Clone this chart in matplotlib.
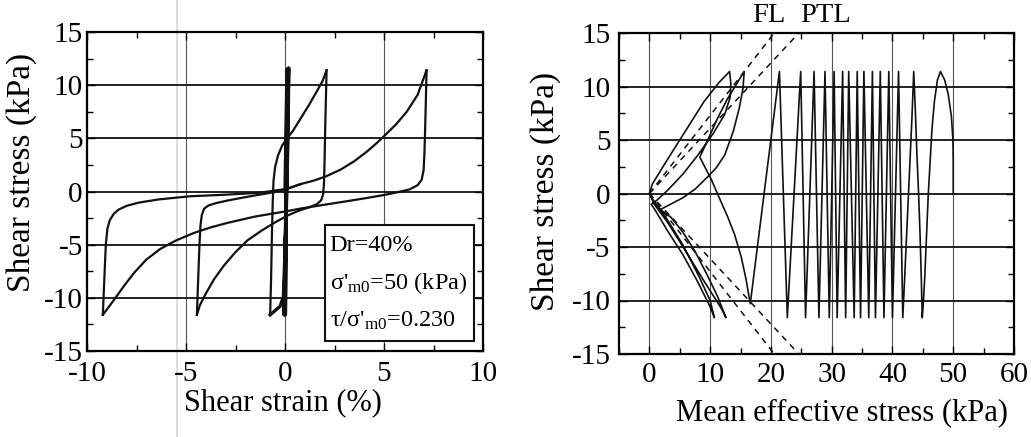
import matplotlib
matplotlib.use("Agg")
import matplotlib.pyplot as plt
from matplotlib.ticker import MultipleLocator
from matplotlib.patches import Rectangle
from matplotlib.lines import Line2D

plt.rcParams['font.family'] = ['Liberation Serif', 'DejaVu Serif']
plt.rcParams['mathtext.fontset'] = 'custom'
plt.rcParams['mathtext.rm'] = 'Liberation Serif'
plt.rcParams['mathtext.it'] = 'Liberation Serif:italic'
plt.rcParams['axes.unicode_minus'] = False

# ---------------- stress-strain loops (left) ----------------
# early small cycles around zero strain
small_strain = [0.00, 0.10, 0.02, 0.13, -0.02, 0.16, -0.05, 0.19, 0.15, 0.05, -0.08, -0.25, -0.75]
small_stress = [0.0, 11.5, -11.6, 11.5, -11.6, 11.6, -11.6, 11.6, 5.0, -3.0, -9.9, -10.8, -11.6]

# up to the 2 % peak
up1_strain = [-0.75, -0.70, -0.66, -0.62, -0.58, -0.50, -0.35, -0.15, 0.10, 0.40, 0.80, 1.20, 1.60, 1.90, 2.10]
up1_stress = [-11.6, -8.0, -4.0, -1.0, 1.0, 2.3, 3.4, 4.3, 5.0, 5.7, 6.9, 8.1, 9.4, 10.4, 11.4]

# down to the -4.5 % peak
down1_strain = [2.10, 2.07, 2.03, 2.00, 1.97, 1.92, 1.82, 1.60, 1.20, 0.70, 0.20, -0.50, -1.20, -1.90,
                -2.50, -3.10, -3.60, -4.00, -4.30, -4.45]
down1_stress = [11.4, 9.0, 6.0, 3.0, 0.8, -0.3, -0.85, -1.2, -1.5, -1.8, -2.2, -2.9, -3.7, -4.6,
                -5.7, -7.0, -8.3, -9.6, -10.7, -11.6]

# up to the 7 % peak
up2_strain = [-4.45, -4.38, -4.32, -4.27, -4.20, -4.08, -3.85, -3.50, -2.90, -2.20, -1.30, -0.50, 0.10,
              0.80, 1.50, 2.10, 2.80, 3.50, 4.10, 4.60, 5.00, 5.60, 6.15, 6.70, 7.15]
up2_stress = [-11.6, -8.0, -5.0, -3.2, -2.2, -1.6, -1.3, -1.1, -0.85, -0.6, -0.3, -0.05, 0.25,
              0.7, 1.05, 1.45, 2.05, 2.85, 3.7, 4.5, 5.2, 6.3, 7.5, 9.1, 11.4]

# down to the -9 % peak
down2_strain = [7.15, 7.12, 7.08, 7.04, 7.00, 6.90, 6.70, 6.30, 5.60, 5.00, 4.00, 3.00, 1.80, 0.80,
                0.10, -1.50, -2.90, -3.80, -4.60, -5.50, -6.30, -7.00, -7.60, -8.10, -8.60, -9.20]
down2_stress = [11.4, 9.0, 6.0, 3.5, 2.0, 1.1, 0.6, 0.2, -0.1, -0.33, -0.65, -0.95, -1.3, -1.6,
                -1.85, -2.35, -2.95, -3.4, -3.9, -4.6, -5.4, -6.4, -7.6, -8.8, -10.1, -11.6]

# last reloading branch
up3_strain = [-9.20, -9.12, -9.05, -8.97, -8.85, -8.65, -8.40, -8.00, -7.40, -6.40, -4.80, -3.00,
              -1.30, 0.10, 0.80]
up3_stress = [-11.6, -8.0, -5.0, -3.5, -2.7, -2.1, -1.7, -1.35, -1.05, -0.75, -0.45, -0.3,
              -0.12, 0.25, 0.7]

# ---------------- effective stress path (right) ----------------
# first, wider cycles starting from 50 kPa
start_p = [50.0, 50.0, 49.95, 49.7, 49.2, 48.6, 47.9, 47.4, 46.9, 46.5, 46.2, 45.9, 45.6, 45.3, 45.05, 44.9,
           44.75, 44.55, 44.3, 44.0, 43.75, 43.5, 43.2, 42.8, 42.4, 42.0, 41.7]
start_tau = [0.0, 3.0, 5.0, 7.2, 9.2, 10.6, 11.4, 10.6, 8.6, 6.0, 3.0, 0.0, -4.0, -8.0, -10.5, -11.6,
             -8.0, -4.0, 0.0, 4.0, 8.0, 11.4, 7.0, 2.0, -3.0, -8.0, -11.6]

# turning points of the following cycles
top_p = [41.0, 39.4, 38.0, 36.7, 35.3, 34.2, 32.8, 31.8, 30.4, 28.9, 27.1, 24.9, 21.4]
bottom_p = [40.0, 38.6, 37.2, 36.1, 34.75, 33.7, 32.3, 30.9, 29.6, 27.9, 25.7, 22.7]
tau_top = 11.4
tau_bottom = -11.6

# liquefied state close to the origin
end_p = [16.6, 15.9, 15.1, 14.0, 12.9, 11.5, 10.2, 9.2, 8.3,
         9.6, 11.2, 12.8, 14.2, 15.6,
         15.4, 14.8, 13.8, 12.4, 11.0, 9.5, 7.5, 5.5, 3.5, 1.8,
         3.5, 5.5, 7.5, 9.5, 11.2, 12.6,
         11.8, 9.0, 6.0, 3.0, 0.8, 0.0,
         0.5, 3.0, 6.0, 9.0, 11.5, 13.2,
         13.4, 13.3, 12.4, 10.5, 8.0, 5.5, 3.0, 1.3, 0.3,
         1.0, 3.0, 5.5, 8.0, 10.0, 10.7,
         10.0, 8.2, 5.5, 2.8, 0.6, 0.0]
end_tau = [-10.3, -8.0, -5.9, -3.8, -2.2, -0.4, 1.3, 2.4, 3.4,
           5.0, 7.0, 8.8, 10.1, 11.4,
           9.8, 8.0, 5.8, 3.6, 2.4, 1.5, 0.4, -0.4, -1.0, -1.5,
           -2.2, -3.6, -5.4, -7.6, -9.6, -11.6,
           -10.7, -8.2, -5.4, -2.7, -1.0, 0.0,
           0.9, 3.2, 5.9, 8.6, 10.4, 11.4,
           10.3, 9.0, 7.4, 5.6, 3.6, 1.8, 0.3, -0.6, -1.0,
           -1.6, -3.5, -5.7, -8.3, -10.6, -11.6,
           -10.0, -7.8, -4.8, -2.3, -0.6, 0.0]

# failure line and phase transformation line slopes
fl_slope = 0.73
ptl_slope = 0.61

# ---------------- figure ----------------
fig = plt.figure(figsize=(10.31, 4.37), dpi=100)
fig.add_artist(Line2D([177 / 1031, 177 / 1031], [0, 1], color='#dedede', lw=1.4, zorder=-1))

ax1 = fig.add_axes([87 / 1031, 86 / 437, 396 / 1031, 319 / 437])
ax2 = fig.add_axes([619 / 1031, 83 / 437, 395 / 1031, 321 / 437])

line_kw = dict(color='#111111', lw=1.6)

for ax in (ax1, ax2):
    ax.patch.set_alpha(0)
    ax.set_axisbelow(True)
    ax.grid(axis='x', which='major', color='#555555', lw=0.8)
    ax.grid(axis='y', which='major', color='#111111', lw=1.3)
    ax.tick_params(which='both', direction='in', top=True, right=True, labelsize=21)
    ax.tick_params(which='major', length=6, width=1.0)
    ax.tick_params(which='minor', length=4, width=1.0)
    for s in ax.spines.values():
        s.set_linewidth(1.6)
    ax.set_ylim(-15, 15)
    ax.yaxis.set_major_locator(MultipleLocator(5))
    ax.yaxis.set_minor_locator(MultipleLocator(2.5))

# left panel
ax1.plot(small_strain, small_stress, color='#111111', lw=2.4)
for xs, ys in ((up1_strain, up1_stress), (down1_strain, down1_stress),
               (up2_strain, up2_stress), (down2_strain, down2_stress),
               (up3_strain, up3_stress)):
    ax1.plot(xs, ys, **line_kw)
ax1.set_xlim(-10, 10)
ax1.xaxis.set_major_locator(MultipleLocator(5))
ax1.xaxis.set_minor_locator(MultipleLocator(2.5))
ax1.tick_params(axis='x', which='major', pad=7)
ax1.tick_params(axis='y', which='major', pad=3)
ax1.set_xlabel('Shear strain (%)', fontsize=22)
ax1.set_ylabel('Shear stress (kPa)', fontsize=24)
ax1.xaxis.set_label_coords(0.495, -0.163)
ax1.xaxis.label.set_va('center')
ax1.yaxis.set_label_coords(-0.164, 0.561)
ax1.yaxis.label.set_va('center')

box = Rectangle((0.601, 0.031), 0.376, 0.364, transform=ax1.transAxes,
                facecolor='white', edgecolor='#111111', lw=1.5, zorder=5)
ax1.add_patch(box)
info_lines = ['Dr=40%', "σ'$_{\\mathrm{m0}}$=50 (kPa)", "τ/σ'$_{\\mathrm{m0}}$=0.230"]
for i, txt in enumerate(info_lines):
    ax1.text(0.613, 0.33 - i * 0.118, txt, transform=ax1.transAxes, fontsize=17.5,
             ha='left', va='center', zorder=6)

# right panel
path_p = list(start_p)
path_tau = list(start_tau)
for i, pt in enumerate(top_p):
    path_p.append(pt)
    path_tau.append(tau_top)
    if i < len(bottom_p):
        path_p.append(bottom_p[i])
        path_tau.append(tau_bottom)
path_p += end_p
path_tau += end_tau
ax2.plot(path_p, path_tau, color='#111111', lw=1.2)

# FL and PTL drawn as rays from the origin to the plot edge
tau_lim = 15
for slope in (fl_slope, ptl_slope):
    for sgn in (1, -1):
        ax2.plot([0, tau_lim / slope], [0, sgn * tau_lim], color='#111111', lw=1.1,
                 linestyle=(0, (4, 3.5)), clip_on=True)

ax2.set_xlim(-5, 60)
ax2.xaxis.set_major_locator(MultipleLocator(10))
ax2.xaxis.set_minor_locator(MultipleLocator(5))
ax2.tick_params(axis='x', which='major', pad=6)
ax2.tick_params(axis='y', which='major', pad=6)
ax2.set_xlabel('Mean effective stress (kPa)', fontsize=22)
ax2.set_ylabel('Shear stress (kPa)', fontsize=24)
ax2.xaxis.set_label_coords(0.564, -0.184)
ax2.xaxis.label.set_va('center')
ax2.yaxis.set_label_coords(-0.187, 0.505)
ax2.yaxis.label.set_va('center')

lbl_tr = ax2.get_xaxis_transform()
ax2.text(19.7, 1.056, 'FL', transform=lbl_tr, fontsize=20.5, ha='center', va='center')
ax2.text(29.0, 1.056, 'PTL', transform=lbl_tr, fontsize=20.5, ha='center', va='center')

fig.savefig('out.png', dpi=100)
